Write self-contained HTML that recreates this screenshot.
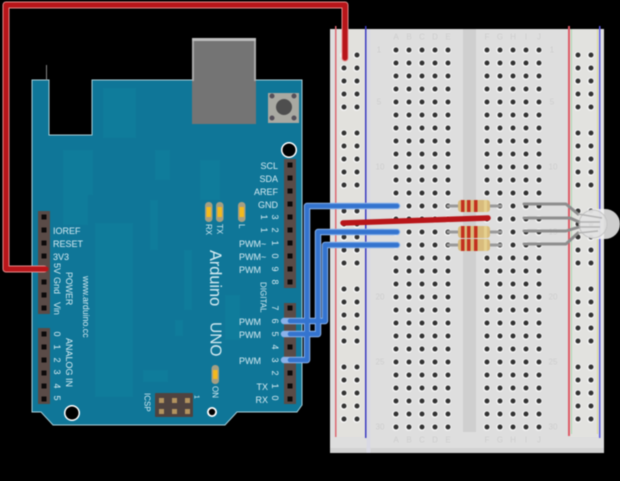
<!DOCTYPE html>
<html><head><meta charset="utf-8"><style>
html,body{margin:0;padding:0;background:#000;width:620px;height:481px;overflow:hidden}
svg{display:block;filter:blur(.4px)}
text{font-family:"Liberation Sans",sans-serif;fill:#d6ebf2;font-size:9px}
.c{dominant-baseline:central}
.bb{fill:#cdcdcd;font-size:8px;text-anchor:middle;dominant-baseline:central}
</style></head><body>
<svg xmlns="http://www.w3.org/2000/svg" width="620" height="481" viewBox="0 0 620 481">
<defs>
<pattern id="hm" patternUnits="userSpaceOnUse" x="389.5" y="43.5" width="13" height="13"><circle cx="6.2" cy="6.8" r="3.7" fill="#f4f4f4"/><circle cx="6.5" cy="6.5" r="2.5" fill="#333"/></pattern>
<pattern id="hr" patternUnits="userSpaceOnUse" x="337.5" y="48.5" width="13" height="13"><circle cx="6.2" cy="6.8" r="3.7" fill="#f4f4f4"/><circle cx="6.5" cy="6.5" r="2.5" fill="#333"/></pattern>
<pattern id="pin" patternUnits="userSpaceOnUse" x="283.5" y="158.5" width="13" height="13"><rect x="4" y="4" width="5" height="5" fill="#0c0a0a"/></pattern>
<pattern id="pin2" patternUnits="userSpaceOnUse" x="37.5" y="210.5" width="13" height="13"><rect x="4" y="4" width="5" height="5" fill="#0c0a0a"/></pattern>
</defs>
<rect width="620" height="481" fill="#000"/>

<!-- Arduino board -->
<path d="M32 80H49V135H92V80H302V405L297 412H237L225 425H53L41 412H32Z" fill="#0f7698" stroke="#a9d0da" stroke-width="1"/>
<g fill="#0f7c9b">
<rect x="95" y="223" width="38" height="174"/>
<rect x="103" y="88" width="33" height="50"/>
<rect x="63" y="150" width="30" height="45"/>
<rect x="63" y="195" width="25" height="30"/>
<rect x="155" y="150" width="15" height="30"/>
<rect x="200" y="160" width="20" height="40"/>
<rect x="175" y="320" width="8" height="16"/>
<rect x="143" y="370" width="25" height="12"/>
<rect x="225" y="295" width="15" height="45"/>
<rect x="150" y="200" width="8" height="50"/>
<rect x="184" y="250" width="8" height="60"/>
</g>
<rect x="46" y="65" width="1" height="15" fill="#888"/>

<!-- USB, button -->
<rect x="192" y="38" width="64" height="86" fill="#747474"/>
<rect x="192" y="38" width="64" height="3" fill="#bdbdbd"/>
<rect x="192" y="41" width="2" height="40" fill="#aaa"/><rect x="254" y="41" width="2" height="40" fill="#aaa"/>
<rect x="268" y="93" width="31" height="30" fill="#a9a9a2"/>
<circle cx="284" cy="107" r="8" fill="#4e4e4e"/>
<circle cx="272" cy="96" r="2.5" fill="#55505a"/><circle cx="294" cy="96" r="2.5" fill="#55505a"/><circle cx="272" cy="118" r="2.5" fill="#55505a"/><circle cx="294" cy="118" r="2.5" fill="#55505a"/>

<!-- mounting holes -->
<circle cx="289" cy="150" r="8" fill="#fff"/><circle cx="289" cy="150" r="6.5" fill="#000"/>
<circle cx="72" cy="413" r="8" fill="#fff"/><circle cx="72" cy="413" r="6.5" fill="#000"/>
<circle cx="212" cy="412" r="5" fill="#fff"/><circle cx="212" cy="412" r="3.2" fill="#000"/>

<!-- headers -->
<rect x="284" y="159" width="12" height="129" fill="#5a4b47"/><rect x="284" y="159" width="12" height="129" fill="url(#pin)"/>
<rect x="284" y="303" width="12" height="101" fill="#5a4b47"/><rect x="284" y="303" width="12" height="101" fill="url(#pin)"/>
<rect x="38" y="211" width="12" height="103" fill="#5a4b47"/><rect x="38" y="211" width="12" height="103" fill="url(#pin2)"/>
<rect x="38" y="328" width="12" height="76" fill="#5a4b47"/><rect x="38" y="328" width="12" height="76" fill="url(#pin2)"/>

<!-- ICSP -->
<rect x="155" y="393" width="38" height="24" rx="1" fill="#4f4340"/>
<g fill="#b2935f"><rect x="159" y="398" width="5" height="5"/><rect x="172" y="398" width="5" height="5"/><rect x="185" y="398" width="5" height="5"/><rect x="159" y="409" width="5" height="5"/><rect x="172" y="409" width="5" height="5"/><rect x="185" y="409" width="5" height="5"/></g>

<!-- LEDs -->
<g fill="#a59f83"><rect x="205" y="202" width="7.5" height="20" rx="3.5"/><rect x="216" y="202" width="7.5" height="20" rx="3.5"/><rect x="238" y="202" width="7.5" height="20" rx="3.5"/><rect x="211.500" y="365" width="7.5" height="19" rx="3.5"/></g>
<g fill="#f2b91e"><rect x="206.500" y="207" width="4.500" height="10"/><rect x="217.500" y="207" width="4.500" height="10"/><rect x="239.500" y="207" width="4.500" height="10"/><rect x="213" y="370" width="4.500" height="9"/></g>

<!-- right labels -->
<g text-anchor="end" class="c">
<text x="278" y="166" class="c">SCL</text><text x="278" y="179" class="c">SDA</text><text x="278" y="192" class="c">AREF</text><text x="278" y="205" class="c">GND</text>
<text x="268" y="387" class="c">TX</text><text x="268" y="400" class="c">RX</text>
</g>
<text x="239" y="244" class="c">PWM~</text><text x="239" y="257" class="c">PWM~</text><text x="239" y="270" class="c">PWM</text>
<text x="239" y="322" class="c">PWM</text><text x="239" y="335" class="c">PWM</text><text x="239" y="361" class="c">PWM</text>
<g class="c" text-anchor="middle" font-size="9">
<text transform="translate(275,217) rotate(90)" class="c">3</text><text transform="translate(264,217) rotate(90)" class="c">1</text>
<text transform="translate(275,230) rotate(90)" class="c">2</text><text transform="translate(264,230) rotate(90)" class="c">1</text>
<text transform="translate(275,243) rotate(90)" class="c">1</text>
<text transform="translate(275,256) rotate(90)" class="c">0</text>
<text transform="translate(275,269) rotate(90)" class="c">9</text>
<text transform="translate(275,282) rotate(90)" class="c">8</text>
<text transform="translate(275,308) rotate(90)" class="c">7</text>
<text transform="translate(275,321) rotate(90)" class="c">6</text>
<text transform="translate(275,334) rotate(90)" class="c">5</text>
<text transform="translate(275,347) rotate(90)" class="c">4</text>
<text transform="translate(275,360) rotate(90)" class="c">3</text>
<text transform="translate(275,373) rotate(90)" class="c">2</text>
<text transform="translate(275,386) rotate(90)" class="c">1</text>
<text transform="translate(275,398) rotate(90)" class="c">0</text>
</g>
<text transform="translate(263,282) rotate(90)" class="c" style="font-size:8px">DIGITAL</text>
<text transform="translate(208.500,224) rotate(90)" class="c" style="font-size:8px">RX</text>
<text transform="translate(219.500,224) rotate(90)" class="c" style="font-size:8px">TX</text>
<text transform="translate(241.500,224) rotate(90)" class="c" style="font-size:8px">L</text>
<text transform="translate(215,386) rotate(90)" class="c" style="font-size:8px">ON</text>
<text transform="translate(215,250) rotate(90)" class="c" style="font-size:16.3px">Arduino</text>
<text transform="translate(215,322) rotate(90)" class="c" style="font-size:15.500px">UNO</text>

<!-- left labels -->
<text x="53" y="231" class="c">IOREF</text><text x="53" y="244" class="c">RESET</text><text x="53" y="257" class="c">3V3</text>
<text transform="translate(57,263) rotate(90)" class="c">5V</text>
<text transform="translate(57,277) rotate(90)" class="c">Gnd</text>
<text transform="translate(57,302) rotate(90)" class="c">Vin</text>
<text transform="translate(69,272) rotate(90)" class="c" style="font-size:8.800px">POWER</text>
<text transform="translate(86,276) rotate(90)" class="c" style="font-size:8.800px">www.arduino.cc</text>
<text transform="translate(69,338) rotate(90)" class="c">ANALOG IN</text>
<g text-anchor="middle">
<text transform="translate(57,334) rotate(90)" class="c">0</text><text transform="translate(57,347) rotate(90)" class="c">1</text><text transform="translate(57,360) rotate(90)" class="c">2</text><text transform="translate(57,372) rotate(90)" class="c">3</text><text transform="translate(57,386) rotate(90)" class="c">4</text><text transform="translate(57,398) rotate(90)" class="c">5</text>
</g>
<text transform="translate(147,393) rotate(90)" class="c" style="font-size:8px">ICSP</text>
<text transform="translate(196,395) rotate(90)" class="c" style="font-size:7px">1</text>

<!-- Breadboard -->
<rect x="330" y="29" width="274" height="424" fill="#dedede"/>
<rect x="330" y="448" width="274" height="5" fill="#d2d2d2"/>
<rect x="337" y="29" width="29" height="408" fill="#e2e1dd"/>
<rect x="570" y="29" width="28" height="408" fill="#e2e2df"/>
<rect x="463" y="29" width="13" height="403" fill="#cfcfcf"/>
<rect x="366.500" y="29" width="4" height="424" fill="#d9d9e4"/>
<rect x="335" y="26" width="1.500" height="411" fill="#dd6a72"/>
<rect x="365" y="26" width="1.500" height="412" fill="#3b3bc0"/>
<rect x="568" y="26" width="2" height="410" fill="#dd5a66"/>
<rect x="571" y="29" width="1" height="405" fill="#a9d8b0"/>
<rect x="599" y="26" width="1.500" height="412" fill="#5a5ae0"/>
<rect x="597" y="29" width="1" height="405" fill="#d8d890"/>

<rect x="389.500" y="43.500" width="65" height="390" fill="url(#hm)"/>
<rect x="480.500" y="43.500" width="65" height="390" fill="url(#hm)"/>
<rect x="337.500" y="48.500" width="26" height="65" fill="url(#hr)"/>
<rect x="337.500" y="126.500" width="26" height="65" fill="url(#hr)"/>
<rect x="337.500" y="204.500" width="26" height="65" fill="url(#hr)"/>
<rect x="337.500" y="282.500" width="26" height="65" fill="url(#hr)"/>
<rect x="337.500" y="360.500" width="26" height="65" fill="url(#hr)"/>
<rect x="571.500" y="48.500" width="26" height="65" fill="url(#hr)"/>
<rect x="571.500" y="126.500" width="26" height="65" fill="url(#hr)"/>
<rect x="571.500" y="204.500" width="26" height="65" fill="url(#hr)"/>
<rect x="571.500" y="282.500" width="26" height="65" fill="url(#hr)"/>
<rect x="571.500" y="360.500" width="26" height="65" fill="url(#hr)"/>

<g>
<text class="bb" x="396" y="37">A</text><text class="bb" x="409" y="37">B</text><text class="bb" x="422" y="37">C</text><text class="bb" x="435" y="37">D</text><text class="bb" x="448" y="37">E</text>
<text class="bb" x="487" y="37">F</text><text class="bb" x="500" y="37">G</text><text class="bb" x="513" y="37">H</text><text class="bb" x="526" y="37">I</text><text class="bb" x="539" y="37">J</text>
<text class="bb" x="396" y="440">A</text><text class="bb" x="409" y="440">B</text><text class="bb" x="422" y="440">C</text><text class="bb" x="435" y="440">D</text><text class="bb" x="448" y="440">E</text>
<text class="bb" x="487" y="440">F</text><text class="bb" x="500" y="440">G</text><text class="bb" x="513" y="440">H</text><text class="bb" x="526" y="440">I</text><text class="bb" x="539" y="440">J</text>
<text class="bb" x="379" y="50">1</text><text class="bb" x="379" y="102">5</text><text class="bb" x="380" y="167">10</text><text class="bb" x="380" y="232">15</text><text class="bb" x="380" y="297">20</text><text class="bb" x="380" y="362">25</text><text class="bb" x="380" y="427">30</text>
<text class="bb" x="552" y="50">1</text><text class="bb" x="552" y="102">5</text><text class="bb" x="553" y="167">10</text><text class="bb" x="553" y="232">15</text><text class="bb" x="553" y="297">20</text><text class="bb" x="553" y="362">25</text><text class="bb" x="553" y="427">30</text>
</g>

<!-- Resistors -->
<g stroke="#9a9a9a" stroke-width="3" stroke-linecap="round"><path d="M448 206H501M448 232H501M448 245H501"/></g>
<g>
<rect x="458" y="200" width="32" height="12" rx="3" fill="#d8bb7c"/>
<rect x="458" y="226" width="32" height="12" rx="3" fill="#d8bb7c"/>
<rect x="458" y="239" width="32" height="12" rx="3" fill="#d8bb7c"/>
<g fill="#c3301f">
<rect x="461" y="200" width="3.500" height="12"/><rect x="467" y="200" width="3.500" height="12"/><rect x="474" y="200" width="3.500" height="12"/>
<rect x="461" y="226" width="3.500" height="12"/><rect x="467" y="226" width="3.500" height="12"/><rect x="474" y="226" width="3.500" height="12"/>
<rect x="461" y="239" width="3.500" height="12"/><rect x="467" y="239" width="3.500" height="12"/><rect x="474" y="239" width="3.500" height="12"/>
</g>
<g fill="#e6d08f"><rect x="484" y="200" width="3" height="12"/><rect x="484" y="226" width="3" height="12"/><rect x="484" y="239" width="3" height="12"/></g>
</g>

<!-- LED -->
<rect x="580" y="209" width="40" height="30" rx="15" fill="#f2f2f2" fill-opacity=".85"/>
<circle cx="593" cy="224" r="14" fill="#dedede" fill-opacity=".75" stroke="#c4c4c4" stroke-width="1"/>
<g fill="none" stroke="#8e8e8e" stroke-width="3" stroke-linecap="round" stroke-linejoin="round">
<path d="M524 204H566L578 214"/>
<path d="M524 218H570L579 222"/>
<path d="M524 231H566L579 227"/>
<path d="M524 244H566L578 233"/>
</g>
<g fill="none" stroke="#b4b4b4" stroke-width="1.500">
<path d="M578 214L602 218M579 222H600M579 227H600M578 233L598 231"/>
</g>

<!-- Wires -->
<g fill="none" stroke-linecap="round" stroke-linejoin="round">
<g stroke="#8ab2ea" stroke-width="6.500">
<path d="M397 206H307V360H284"/><path d="M397 232H318V334H284"/><path d="M397 245H325V321H284"/>
</g>
<g stroke="#3474cf" stroke-width="4.500">
<path d="M397 206H307V360H290"/><path d="M397 232H318V334H290"/><path d="M397 245H325V321H290"/>
</g>
<path d="M345 58V5H6V269H44" stroke="#e58a8a" stroke-width="7"/>
<path d="M345 58V5H6V269H46" stroke="#b81519" stroke-width="5"/>
<path d="M343 223L488 218" stroke="#b81519" stroke-width="5.500"/>
</g>
</svg>
</body></html>
